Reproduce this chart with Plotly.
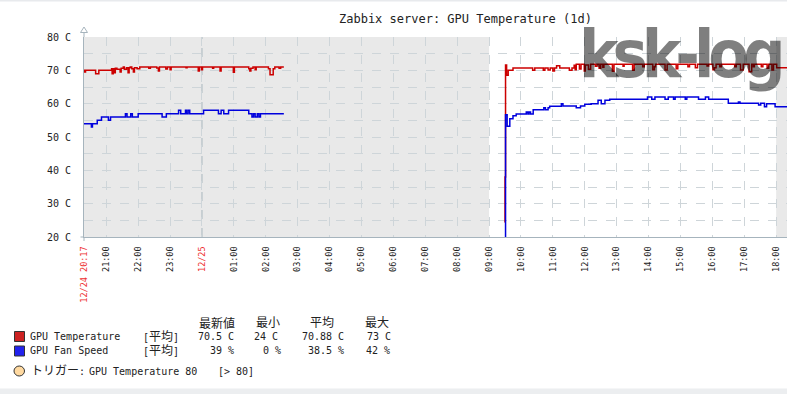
import plotly.graph_objects as go

# ---------------- data ----------------
# GPU Temperature (C), step points, segment 1 (night) and segment 2 (day)
TEMP1_T = ["24 20:18", "24 20:19", "24 20:21", "24 20:40", "24 20:46", "24 21:10", "24 21:11", "24 21:13",
           "24 21:15", "24 21:17", "24 21:20", "24 21:26", "24 21:28", "24 21:32", "24 21:34", "24 21:38",
           "24 21:41", "24 21:43", "24 21:45", "24 21:48", "24 21:51", "24 21:53", "24 21:58", "24 22:03",
           "24 22:20", "24 22:23", "24 22:35", "24 22:38", "24 22:40", "24 22:52", "24 22:55", "24 23:00",
           "24 23:02", "24 23:30", "24 23:32", "24 23:53", "24 23:55", "24 23:59", "25 00:01", "25 00:20",
           "25 00:22", "25 00:34", "25 00:36", "25 00:59", "25 01:01", "25 01:28", "25 01:30", "25 01:32",
           "25 01:36", "25 01:40", "25 01:42", "25 02:05", "25 02:08", "25 02:14", "25 02:17", "25 02:25",
           "25 02:28", "25 02:34"]
TEMP1_V = [70.0, 69.5, 70.0, 69.0, 70.0, 70.5, 69.0, 70.5,
           69.3, 70.6, 70.3, 69.5, 70.6, 71.0, 70.3, 70.8,
           69.3, 70.8, 71.0, 70.5, 69.5, 70.8, 70.5, 71.0,
           70.6, 71.0, 70.7, 69.8, 71.0, 70.4, 71.0, 70.2,
           71.0, 70.8, 71.0, 69.8, 71.0, 70.2, 71.0, 70.6,
           71.0, 69.8, 71.0, 69.4, 71.0, 70.5, 69.8, 70.6,
           71.0, 70.2, 71.0, 70.5, 68.7, 70.5, 71.0, 70.6,
           71.0, 71.0]
TEMP2_T = ["25 09:29", "25 09:30", "25 09:31", "25 09:33", "25 09:36", "25 09:45", "25 10:22", "25 10:26",
           "25 10:42", "25 10:45", "25 10:51", "25 10:55", "25 11:00", "25 11:03", "25 11:07", "25 11:13",
           "25 11:31", "25 11:36", "25 11:40", "25 11:42", "25 11:44", "25 11:50", "25 11:53", "25 11:59",
           "25 12:01", "25 12:07", "25 12:11", "25 12:20", "25 12:23", "25 12:27", "25 12:30", "25 12:34",
           "25 12:36", "25 12:52", "25 12:55", "25 13:12", "25 13:14", "25 13:30", "25 13:33", "25 13:49",
           "25 13:52", "25 14:08", "25 14:11", "25 14:13", "25 14:31", "25 14:35", "25 14:52", "25 14:55",
           "25 15:14", "25 15:17", "25 15:28", "25 15:32", "25 15:50", "25 15:53", "25 16:01", "25 16:04",
           "25 16:07", "25 16:14", "25 16:17", "25 16:42", "25 16:45", "25 16:53", "25 16:58", "25 17:09",
           "25 17:14", "25 17:17", "25 17:19", "25 17:32", "25 17:35", "25 17:43", "25 17:46", "25 17:52",
           "25 17:55", "25 18:01", "25 18:30"]
TEMP2_V = [24.5, 38.0, 71.6, 68.5, 70.0, 70.7, 70.0, 70.7,
           70.0, 70.7, 70.1, 70.7, 69.8, 70.7, 71.4, 70.7,
           70.0, 70.7, 71.5, 70.2, 71.8, 70.4, 71.8, 69.8,
           71.6, 70.3, 71.8, 71.2, 71.8, 70.6, 71.8, 70.9,
           71.8, 69.7, 71.8, 71.2, 71.8, 70.0, 71.8, 71.1,
           71.8, 70.2, 71.1, 71.8, 70.1, 71.8, 70.5, 71.8,
           71.1, 71.8, 70.8, 71.8, 71.3, 71.8, 70.2, 70.8,
           71.8, 71.1, 71.8, 71.1, 71.8, 70.1, 71.8, 69.6,
           71.8, 71.1, 71.8, 71.1, 71.8, 70.6, 71.8, 70.1,
           71.8, 70.8, 70.8]

# GPU Fan Speed (%), step points
FAN1_T = ["24 20:18", "24 20:32", "24 20:34", "24 20:43", "24 20:51", "24 21:04", "24 21:08", "24 21:36",
          "24 21:39", "24 21:46", "24 21:49", "24 22:00", "24 22:45", "24 22:53", "24 23:16", "24 23:20",
          "24 23:29", "24 23:31", "24 23:34", "24 23:37", "25 00:03", "25 00:31", "25 00:36", "25 00:41",
          "25 00:50", "25 01:28", "25 01:34", "25 01:37", "25 01:40", "25 01:44", "25 01:47", "25 01:50",
          "25 01:56", "25 02:34"]
FAN1_V = [34, 33, 34, 35, 36, 35, 36, 37,
          36, 37, 36, 37, 36, 37, 38, 37,
          38, 37, 38, 37, 38, 37, 38, 37,
          38, 37, 36, 37, 36, 37, 36, 37,
          37, 37]
FAN2_T = ["25 09:30", "25 09:31", "25 09:34", "25 09:39", "25 09:45", "25 09:51", "25 10:10", "25 10:13",
          "25 10:15", "25 10:18", "25 10:23", "25 10:43", "25 10:46", "25 10:51", "25 10:54", "25 11:16",
          "25 11:19", "25 11:44", "25 11:52", "25 12:00", "25 12:12", "25 12:25", "25 12:31", "25 12:38",
          "25 12:47", "25 13:58", "25 14:06", "25 14:12", "25 14:31", "25 14:37", "25 14:47", "25 14:50",
          "25 15:09", "25 15:12", "25 15:34", "25 15:47", "25 15:53", "25 16:30", "25 16:49", "25 16:52",
          "25 17:27", "25 17:31", "25 17:38", "25 17:42", "25 17:58", "25 18:30"]
FAN2_V = [0, 36.7, 33.2, 35.5, 36.4, 36.9, 37.5, 36.9,
          37.5, 36.9, 38.2, 38.8, 38.2, 38.8, 39.2, 40.0,
          39.3, 38.8, 39.3, 39.8, 40.0, 41.0, 40.0, 41.0,
          41.3, 42.0, 41.3, 42.0, 41.3, 42.0, 41.3, 42.0,
          41.3, 42.0, 41.3, 42.0, 41.3, 40.1, 40.5, 40.1,
          39.6, 40.1, 39.1, 40.0, 39.1, 39.1]
GAP_T = "25 05:00"

X_RANGE = ["24 20:18:06", "25 18:20:24"]
XTICK_T = ["24 20:18:06", "24 21:00", "24 22:00", "24 23:00", "25 00:00", "25 01:00", "25 02:00",
           "25 03:00", "25 04:00", "25 05:00", "25 06:00", "25 07:00", "25 08:00", "25 09:00",
           "25 10:00", "25 11:00", "25 12:00", "25 13:00", "25 14:00", "25 15:00", "25 16:00",
           "25 17:00", "25 18:00"]
XTICK_LABELS = ["12/24 20:17", "21:00", "22:00", "23:00", "12/25", "01:00", "02:00",
                "03:00", "04:00", "05:00", "06:00", "07:00", "08:00", "09:00",
                "10:00", "11:00", "12:00", "13:00", "14:00", "15:00", "16:00",
                "17:00", "18:00"]
XTICK_RED = ["12/24 20:17", "12/25"]
YTICK_V = [20, 30, 40, 50, 60, 70, 80]
YTICK_LABELS = ["20 C", "30 C", "40 C", "50 C", "60 C", "70 C", "80 C"]
FAN_RANGE = [0, 60]
OFFHOURS = [("24 20:00", "25 09:00"), ("25 18:00", "25 19:00")]

TITLE = "Zabbix server: GPU Temperature (1d)"
SERIES = ["GPU Temperature", "GPU Fan Speed"]
STAT_HEADERS = ["最新値", "最小", "平均", "最大"]
TEMP_STATS = ["70.5 C", "24 C", "70.88 C", "73 C"]
FAN_STATS = ["39 %", "0 %", "38.5 %", "42 %"]
TRIGGER = ["トリガー:", "GPU Temperature 80", "[> 80]"]
WATERMARK = "ksk-log"


def ts(s):
    d, hm = s.split()
    if hm.count(":") == 1:
        hm += ":00"
    return f"2023-12-{d} {hm}"


# ---------------- layout helpers (pixel -> paper) ----------------
W, H = 787, 394
L, T, PW, PH = 84, 37, 703, 200


def px(x):
    return (x - L) / PW


def py(y):
    return (T + PH - y) / PH


MONO = "DejaVu Sans Mono, Noto Sans CJK JP"
TXT = "#222222"

temp_x = [ts(t) for t in TEMP1_T] + [ts(GAP_T)] + [ts(t) for t in TEMP2_T]
temp_y = TEMP1_V + [None] + TEMP2_V
fan_x = [ts(t) for t in FAN1_T] + [ts(GAP_T)] + [ts(t) for t in FAN2_T]
fan_y = FAN1_V + [None] + FAN2_V

fig = go.Figure()
fig.add_trace(go.Scatter(x=temp_x, y=temp_y, mode="lines", line=dict(color="#CC0000", width=1.5, shape="hv"),
                         connectgaps=False, name=SERIES[0], yaxis="y"))
fig.add_trace(go.Scatter(x=fan_x, y=fan_y, mode="lines", line=dict(color="#0000DD", width=1.5, shape="hv"),
                         connectgaps=False, name=SERIES[1], yaxis="y2"))

ticktext = [f'<span style="color:#ee3030">{t}</span>' if t in XTICK_RED else t for t in XTICK_LABELS]

shapes = []
for a, b in OFFHOURS:
    shapes.append(dict(type="rect", xref="x", yref="paper", x0=ts(a), x1=ts(b), y0=0, y1=1,
                       fillcolor="#E9E9E9", line=dict(width=0), layer="below"))
# darker day-change line
shapes.append(dict(type="line", xref="x", yref="paper", x0=ts("25 00:00"), x1=ts("25 00:00"), y0=0, y1=1,
                   line=dict(color="#A8B6BE", width=1, dash="dash"), layer="below"))
# y axis arrow
shapes.append(dict(type="line", xref="paper", yref="paper", x0=0, x1=0, y0=1, y1=py(32),
                   line=dict(color="#A6B4BD", width=1)))
shapes.append(dict(type="path", xref="paper", yref="paper",
                   path=f"M {px(80.5)},{py(32.5)} L {px(84)},{py(27)} L {px(87.5)},{py(32.5)} Z",
                   fillcolor="white", line=dict(color="#A6B4BD", width=1)))
# small ticks at axis origin
shapes.append(dict(type="line", xref="paper", yref="paper", x0=px(80.5), x1=0, y0=0, y1=0,
                   line=dict(color="#A6B4BD", width=1)))
shapes.append(dict(type="line", xref="paper", yref="paper", x0=0, x1=0, y0=0, y1=py(241),
                   line=dict(color="#A6B4BD", width=1)))
# top / bottom strips
shapes.append(dict(type="rect", xref="paper", yref="paper", x0=px(0), x1=px(W), y0=py(0), y1=py(1.5),
                   fillcolor="#E8EAED", line=dict(width=0)))
shapes.append(dict(type="rect", xref="paper", yref="paper", x0=px(0), x1=px(W), y0=py(388.5), y1=py(H),
                   fillcolor="#ECEEF0", line=dict(width=0)))
# legend swatches
shapes.append(dict(type="rect", xref="paper", yref="paper", x0=px(14.5), x1=px(24.5), y0=py(331.5), y1=py(341.5),
                   fillcolor="#CC2222", line=dict(color="#333333", width=1)))
shapes.append(dict(type="rect", xref="paper", yref="paper", x0=px(14.5), x1=px(24.5), y0=py(346), y1=py(356),
                   fillcolor="#2222EE", line=dict(color="#333333", width=1)))
shapes.append(dict(type="circle", xref="paper", yref="paper", x0=px(14), x1=px(24.5), y0=py(366), y1=py(376),
                   fillcolor="#FFD9A0", line=dict(color="#333333", width=1)))

ann = []


def text(x, y, s, anchor="left", size=10, color=TXT, family=MONO):
    ann.append(dict(x=px(x), y=py(y), xref="paper", yref="paper", text=s, showarrow=False,
                    xanchor=anchor, yanchor="middle", font=dict(family=family, size=size, color=color),
                    borderpad=0))


text(465, 19, TITLE, anchor="center", size=12)
# header
for s, xr in zip(STAT_HEADERS, [236, 281, 335, 390]):
    text(xr, 323, s, anchor="right", size=12)
# rows
CJK = '<span style="font-size:12px">{}</span>'
text(29, 336.5, SERIES[0])
text(142, 336.5, "[" + CJK.format("平均") + "]")
for s, xr in zip(TEMP_STATS, [235, 279, 345, 392]):
    text(xr, 336.5, s, anchor="right")
text(29, 351, SERIES[1])
text(142, 351, "[" + CJK.format("平均") + "]")
for s, xr in zip(FAN_STATS, [235, 282, 345, 391]):
    text(xr, 351, s, anchor="right")
# trigger
text(30, 371, CJK.format(TRIGGER[0][:-1]) + ":")
text(88, 371, TRIGGER[1])
text(217, 371, TRIGGER[2])
# watermark
ann.append(dict(x=px(680), y=py(14.5), xref="paper", yref="paper",
                text=f'<span style="letter-spacing:-6px"><b>{WATERMARK}</b></span>', showarrow=False,
                xanchor="center", yanchor="top", borderpad=0,
                font=dict(family="DejaVu Sans Condensed, sans-serif", size=66,
                          color="rgba(0,0,0,0.5)")))

fig.update_layout(
    width=W, height=H,
    margin=dict(l=L, r=W - L - PW, t=T, b=H - T - PH, pad=0),
    paper_bgcolor="white", plot_bgcolor="white",
    showlegend=False,
    shapes=shapes, annotations=ann,
    xaxis=dict(type="date", range=[ts(X_RANGE[0]), ts(X_RANGE[1])], tickmode="array",
               tickvals=[ts(t) for t in XTICK_T], ticktext=ticktext, tickangle=-90,
               tickfont=dict(family=MONO, size=8.5, color=TXT), ticks="", ticklabelstandoff=5,
               showgrid=True, gridcolor="#CED5D9", griddash="dash", gridwidth=1,
               showline=True, linecolor="#A6B4BD", linewidth=1, zeroline=False, fixedrange=True),
    yaxis=dict(range=[20, 80], tickmode="array", tickvals=YTICK_V, ticktext=YTICK_LABELS,
               tickfont=dict(family=MONO, size=10, color=TXT), ticks="", ticklabelstandoff=10,
               showgrid=True, gridcolor="#CED5D9", griddash="dash", gridwidth=1,
               minor=dict(dtick=5, tick0=20, showgrid=True, gridcolor="#CED5D9", griddash="dash", gridwidth=1),
               showline=True, linecolor="#A6B4BD", linewidth=1, zeroline=False, fixedrange=True),
    yaxis2=dict(range=FAN_RANGE, overlaying="y", visible=False, fixedrange=True),
)

fig.write_html("out.html", config={"displayModeBar": False, "staticPlot": True},
               post_script="document.body.style.margin='0';document.body.style.overflow='hidden';")
